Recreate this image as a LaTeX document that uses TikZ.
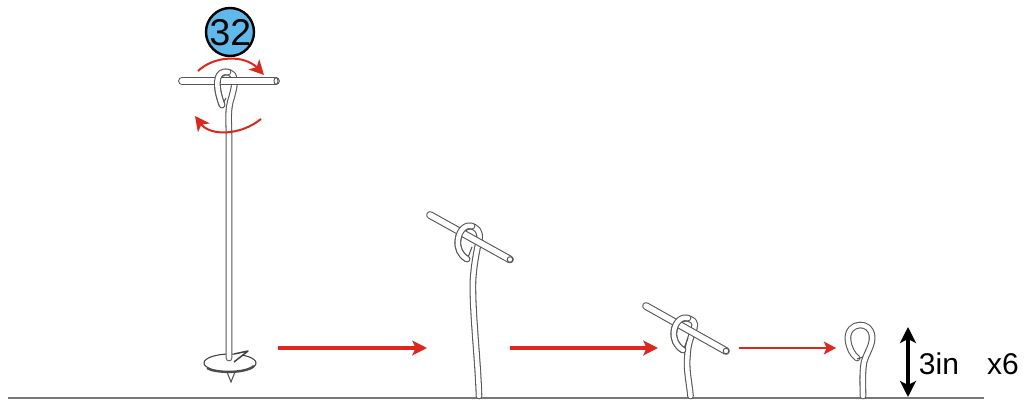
\documentclass[tikz,border=0pt]{standalone}
\usepackage{fontspec}
\setmainfont{Liberation Sans}
\usetikzlibrary{arrows.meta}
\definecolor{rodgray}{RGB}{85,85,85}
\definecolor{arrowred}{RGB}{222,38,28}
\definecolor{badgeblue}{RGB}{95,185,235}
\tikzset{
  rod/.style={draw=rodgray,line width=0.8pt,double=white,double distance=4.2pt,line cap=round,line join=round},
  wire/.style={draw=rodgray,line width=0.8pt,double=white,double distance=3.4pt,line cap=round,line join=round},
  flowarrow/.style={draw=arrowred,line width=2.6pt,-{Stealth[length=11pt,width=11pt,inset=2.5pt]}},
  turnarrow/.style={draw=arrowred,line width=1.5pt,-{Stealth[length=11pt,width=11pt,inset=3pt]}},
  sizearrow/.style={draw=black,line width=2.8pt,{Stealth[length=12pt,width=12pt,inset=3pt]}-{Stealth[length=12pt,width=12pt,inset=3pt]}},
  label/.style={inner sep=0pt,font=\fontsize{22.5}{24}\selectfont}
}
\begin{document}
\begin{tikzpicture}[x=0.75pt,y=-0.75pt]
\useasboundingbox (0,0) rectangle (1029,400);
% ground
\coordinate (g1) at (8,398); \coordinate (g2) at (984,398);
\draw[rodgray!80,line width=1.1pt] (g1) -- (g2);

% --- first stake: disk below
\draw[rodgray,line width=0.8pt,fill=white] (227,372) -- (231,382) -- (235,372) -- cycle;
\draw[black!75,line width=0.8pt,fill=white] (230,363) ellipse [x radius=26,y radius=9];
\draw[black!70,line width=1.8pt] (207,368) .. controls (214,373) and (245,374) .. (254,366);
\draw[wire] (229,358) -- (229,135) .. controls (229,122) and (227,110) .. (232,96)
  .. controls (234,88) and (236,80) .. (233,75) .. controls (229,70) and (221,71) .. (218,78)
  .. controls (216,86) and (219,97) .. (222,105);
\draw[black!75,line width=1.1pt,fill=white,line join=round] (234,362) -- (248,351) -- (234,354);
\draw[rodgray,line width=0.8pt] (222,105) -- (226,98);
\draw[rod] (182,81) -- (276,81);
\draw[rodgray,line width=0.7pt,fill=white] (276,81) ellipse [x radius=2,y radius=3.4];
\draw[wire] (228,72) .. controls (222,71) and (219,74) .. (218,78) .. controls (216,86) and (219,97) .. (222,105);

% badge
\node[circle,draw=black,line width=1.8pt,fill=badgeblue,minimum size=36pt,inner sep=0pt] (badge) at (230,32) {};
\node[inner sep=0pt,font=\fontsize{28}{30}\selectfont] (num) at (230.5,32.5) {32};

% turn arrows
\coordinate (t1) at (198,71); \coordinate (t2) at (264,75);
\coordinate (t3) at (261,119); \coordinate (t4) at (195,116);
\draw[turnarrow] (t1) .. controls (215,55) and (245,55) .. (t2);
\draw[turnarrow] (t3) .. controls (240,136) and (210,136) .. (t4);

% --- second stake
\draw[wire] (479,396) .. controls (478,360) and (472,310) .. (473,280)
  .. controls (474,265) and (476,255) .. (478,245)
  .. controls (481,236) and (480,230) .. (474,227) .. controls (467,224) and (459,230) .. (458,240)
  .. controls (457,248) and (460,255) .. (467,259);
\draw[rodgray,line width=0.8pt] (467,260) -- (472,247);
\draw[rod] (430,215) -- (510,259.5);
\draw[rodgray,line width=0.7pt,fill=white] (510,259.5) circle [radius=2.8];
\draw[wire] (472,226) .. controls (466,224) and (459,230) .. (458,240)
  .. controls (457,248) and (460,255) .. (467,259);

% --- third stake
\draw[wire] (690.5,396) .. controls (689,380) and (686,370) .. (687.5,355)
  .. controls (688,345) and (690,340) .. (692,334)
  .. controls (696,326) and (696,321) .. (690,319) .. controls (683,316) and (675,322) .. (674,331)
  .. controls (673,339) and (676,346) .. (683,350);
\draw[rodgray,line width=0.8pt] (683,351) -- (688,338);
\draw[rod] (646,306) -- (726,351);
\draw[rodgray,line width=0.7pt,fill=white] (726,351) circle [radius=2.8];
\draw[wire] (688,318) .. controls (682,316) and (675,322) .. (674,331)
  .. controls (673,339) and (676,346) .. (683,350);

% --- final loop
\draw[wire] (863,396) .. controls (863,385) and (862,375) .. (864,362)
  .. controls (867,352) and (873,345) .. (872,336)
  .. controls (871,328) and (866,325) .. (860,325)
  .. controls (853,325) and (847,331) .. (848,340)
  .. controls (849,348) and (852,354) .. (857,358);
\draw[rodgray,line width=0.8pt] (857,359) -- (863,357);

% flow arrows
\coordinate (a1) at (278,348); \coordinate (a2) at (427,348);
\coordinate (a3) at (510,348); \coordinate (a4) at (658,348);
\coordinate (a5) at (739,348); \coordinate (a6) at (836,348);
\draw[flowarrow] (a1) -- (a2);
\draw[flowarrow] (a3) -- (a4);
\draw[flowarrow,line width=2.2pt,-{Stealth[length=9pt,width=9.5pt,inset=2pt]}] (a5) -- (a6);

% size arrow and labels
\coordinate (s1) at (908,327); \coordinate (s2) at (908,397);
\draw[sizearrow] (s1) -- (s2);
\node[label] (size) at (939,364) {3in};
\node[label] (count) at (1003,364) {x6};
\end{tikzpicture}
\end{document}
